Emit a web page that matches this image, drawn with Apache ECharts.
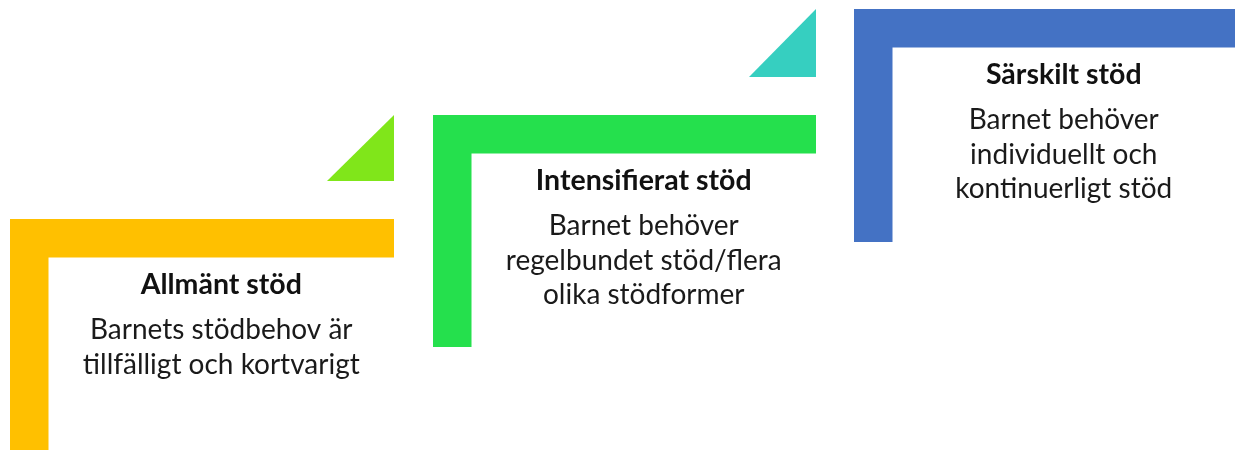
<!DOCTYPE html>
<html><head><meta charset="utf-8">
<script src="https://cdn.jsdelivr.net/npm/echarts@6/dist/echarts.min.js"></script>
<style>html,body{margin:0;padding:0;background:#fff;overflow:hidden}#c{width:1235px;height:450px}</style>
</head><body><div id="c"></div>
<script>
// Step levels (0 = lowest) and their texts
const levels = [0, 1, 2];
const categories = ['Allmänt stöd', 'Intensifierat stöd', 'Särskilt stöd'];
const descriptions = [
  ['Barnets stödbehov är', 'tillfälligt och kortvarigt'],
  ['Barnet behöver', 'regelbundet stöd/flera', 'olika stödformer'],
  ['Barnet behöver', 'individuellt och', 'kontinuerligt stöd']
];
// Step extents in axis units (x: 0..1235, y: 0..450 top-down)
const stepLeft = [10, 433, 854];
const stepRight = [394, 816, 1240];
const stepTop = [219, 115, 9];
const stepBottom = [455, 347, 242];

const stepColors = ['#FFC000', '#25E04D', '#4472C4'];
const arrowColors = ['#80E61A', '#36CFC0'];

const chart = echarts.init(document.getElementById('c'), null, {renderer: 'canvas'});
const T = 38.5;      // bar thickness (axis units)
const TRI = 67;      // triangle size
const FONT = 'Lato, "Liberation Sans", sans-serif';

function renderItem(params, api) {
  const i = api.value(0);
  const L = stepLeft[i], R = stepRight[i], Tp = stepTop[i], B = stepBottom[i];
  const c = (x, y) => api.coord([x, y]);
  const children = [];
  children.push({
    type: 'polygon',
    shape: {points: [c(L, Tp), c(R, Tp), c(R, Tp + T), c(L + T, Tp + T), c(L + T, B), c(L, B)]},
    style: {fill: stepColors[i]}
  });
  if (i < levels.length - 1) {
    const by = Tp - 38;
    children.push({
      type: 'polygon',
      shape: {points: [c(R - TRI, by), c(R, stepTop[i + 1]), c(R, by)]},
      style: {fill: arrowColors[i]}
    });
  }
  const cx = (L + T + Math.min(R, 1235)) / 2;
  const tp = c(cx, Tp + 66);
  children.push({
    type: 'text',
    x: tp[0], y: tp[1],
    style: {text: categories[i], fill: '#111', font: 'bold 28.5px ' + FONT, align: 'center', verticalAlign: 'middle'}
  });
  descriptions[i].forEach((line, k) => {
    const p = c(cx, Tp + 111 + k * 34.5);
    children.push({
      type: 'text',
      x: p[0], y: p[1],
      style: {text: line, fill: '#1a1a1a', font: '28px ' + FONT, align: 'center', verticalAlign: 'middle'}
    });
  });
  return {type: 'group', children};
}

chart.setOption({
  animation: false,
  backgroundColor: '#ffffff',
  grid: {left: 0, right: 0, top: 0, bottom: 0},
  xAxis: {type: 'value', min: 0, max: 1235, show: false},
  yAxis: {type: 'value', min: 0, max: 450, inverse: true, show: false},
  series: [{
    type: 'custom',
    clip: false,
    renderItem: renderItem,
    data: levels.map(l => [l])
  }]
});
</script></body></html>
